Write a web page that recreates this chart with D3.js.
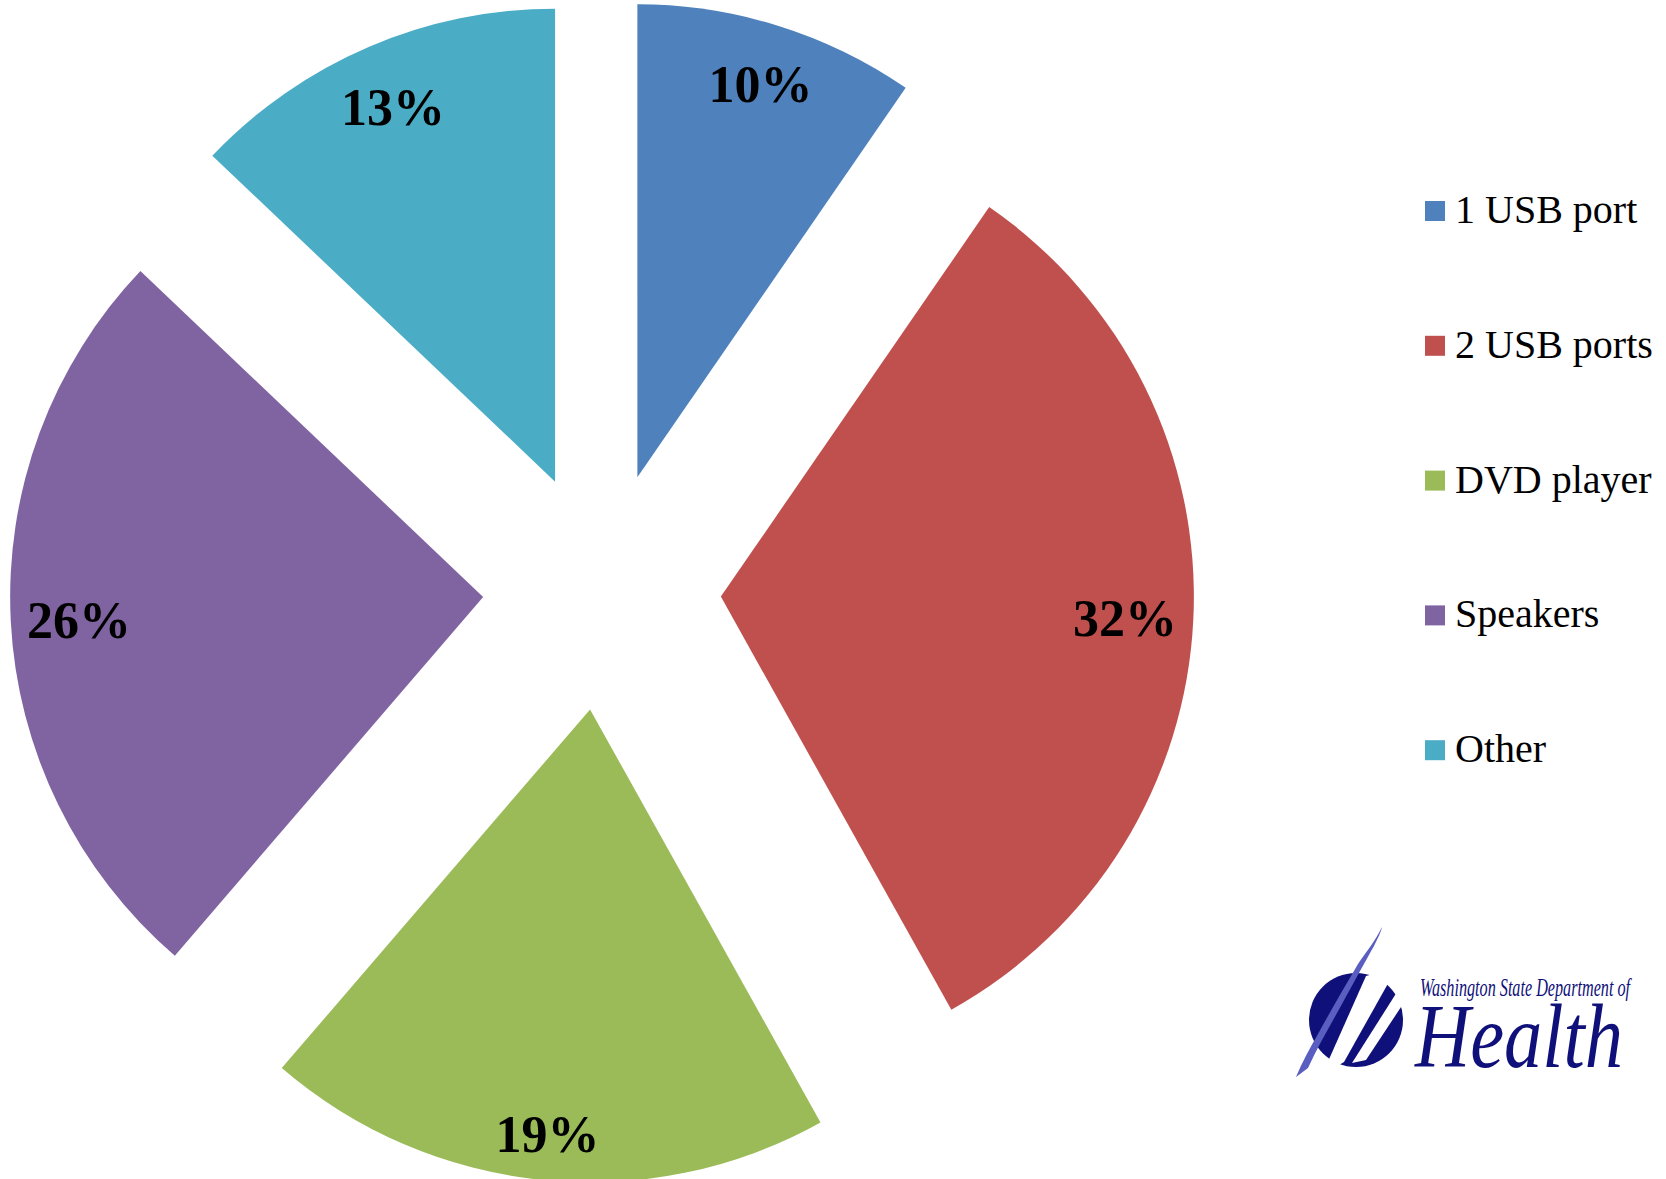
<!DOCTYPE html>
<html>
<head>
<meta charset="utf-8">
<script src="https://cdn.jsdelivr.net/npm/d3@7"></script>
<style>
  body { margin: 0; background: #fff; }
  svg { display: block; }
</style>
</head>
<body>
<div id="chart"></div>
<script>
"use strict";

// chart data (labels as printed)
const categories = ["1 USB port", "2 USB ports", "DVD player", "Speakers", "Other"];
const values = [9.6, 32.3, 19.4, 25.8, 12.9];
const labels = ["10%", "32%", "19%", "26%", "13%"];
const colors = ["#4F81BD", "#C0504D", "#9BBB59", "#8064A2", "#4BACC6"];

const msm = {
    width: 1666,
    height: 1179,
    cx: 602,
    cy: 591,
    radius: 473,
    explode: 119,
    labelSize: 52,
    labelMargin: 15,
    labelBoxH: 58
}

const svg = d3.select("#chart")
    .append("svg")
    .attr("width", msm.width)
    .attr("height", msm.height);

// pie layout, first slice starts at 12 o'clock, going clockwise
const pie = d3.pie().sort(null).value((d) => d);
const arcs = pie(values);
const arc = d3.arc().innerRadius(0).outerRadius(msm.radius);

// each slice pulled out along its bisector
function offset(d, dist) {
    let a = (d.startAngle + d.endAngle) / 2;
    return [Math.sin(a) * dist, -Math.cos(a) * dist];
}

let slices = svg.append("g")
    .attr("transform", "translate(" + msm.cx + "," + msm.cy + ")");

slices.selectAll(".slice")
    .data(arcs)
    .enter()
    .append("path")
    .attr("class", "slice")
    .attr("d", arc)
    .attr("fill", (d, i) => colors[i])
    .attr("transform", (d) => "translate(" + offset(d, msm.explode) + ")");

// data labels, placed at inside end of each slice
let labelG = slices.selectAll(".lbl")
    .data(arcs)
    .enter()
    .append("text")
    .attr("class", "lbl")
    .attr("text-anchor", "middle")
    .style("font-family", "'Liberation Serif', 'Times New Roman', serif")
    .style("font-weight", "bold")
    .style("font-size", msm.labelSize + "px")
    .attr("fill", "#000")
    .text((d, i) => labels[i]);

labelG.each(function (d) {
    let box = this.getBBox();
    let a = (d.startAngle + d.endAngle) / 2;
    let ux = Math.sin(a), uy = -Math.cos(a);
    let capH = msm.labelSize * 0.8;
    let half = Math.abs(ux) * box.width / 2 + Math.abs(uy) * msm.labelBoxH / 2;
    let dist = msm.radius - msm.labelMargin - half;
    let o = offset(d, msm.explode);
    d3.select(this)
        .attr("x", o[0] + ux * dist)
        .attr("y", o[1] + uy * dist + capH / 2);
});

// legend
const legend = svg.append("g")
    .attr("transform", "translate(1425, 201)");

let rows = legend.selectAll(".row")
    .data(categories)
    .enter()
    .append("g")
    .attr("class", "row")
    .attr("transform", (d, i) => "translate(0," + (i * 134.8) + ")");

rows.append("rect")
    .attr("width", 20)
    .attr("height", 20)
    .attr("fill", (d, i) => colors[i]);

rows.append("text")
    .attr("x", 30)
    .attr("y", 22)
    .style("font-family", "'Liberation Serif', 'Times New Roman', serif")
    .style("font-size", "40px")
    .attr("fill", "#000")
    .text((d) => d);

// Department of Health logo
const navy = "#10107A";
const logo = svg.append("g");

logo.append("circle")
    .attr("cx", 1356)
    .attr("cy", 1020)
    .attr("r", 47)
    .attr("fill", navy);

// white cuts through the circle
logo.append("path")
    .attr("d", "M1366,976 C1376,972 1386,974 1390,980 L1344,1062 C1338,1066 1332,1068 1326,1066 Z")
    .attr("fill", "#fff");
logo.append("path")
    .attr("d", "M1397,992 L1403,1004 L1366,1060 L1352,1063 Z")
    .attr("fill", "#fff");

// feather swoosh
logo.append("path")
    .attr("d", "M1382,927 C1376,940 1366,952 1358,964 C1344,988 1330,1012 1318,1034 C1310,1048 1302,1062 1296,1077 L1308,1068 C1318,1046 1330,1026 1342,1004 C1354,982 1366,960 1374,946 C1378,938 1381,932 1382,927 Z")
    .attr("fill", "#5A5EC0");

logo.append("text")
    .attr("x", 1420)
    .attr("y", 996)
    .attr("textLength", 210)
    .attr("lengthAdjust", "spacingAndGlyphs")
    .style("font-family", "'Liberation Serif', serif")
    .style("font-style", "italic")
    .style("font-size", "26px")
    .attr("fill", navy)
    .text("Washington State Department of");

logo.append("text")
    .attr("x", 1415)
    .attr("y", 1067)
    .attr("textLength", 208)
    .attr("lengthAdjust", "spacingAndGlyphs")
    .style("font-family", "'Liberation Serif', serif")
    .style("font-style", "italic")
    .style("font-size", "90px")
    .attr("fill", navy)
    .text("Health");
</script>
</body>
</html>
